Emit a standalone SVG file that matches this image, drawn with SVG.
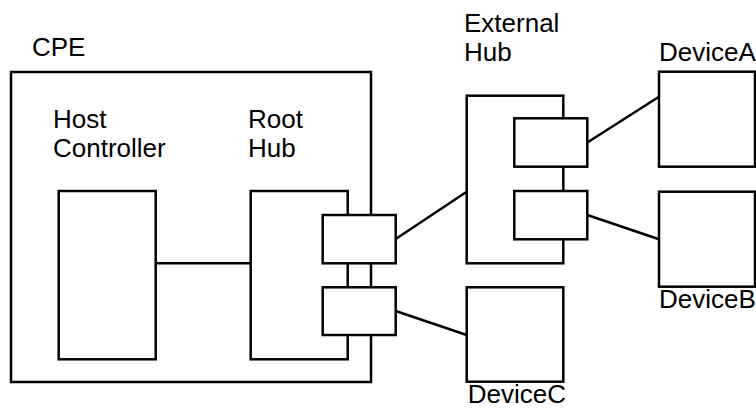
<svg xmlns="http://www.w3.org/2000/svg" width="756" height="408" viewBox="0 0 756 408">
<style>
.b{fill:#fff;stroke:#000;stroke-width:2.5}
.c{fill:none;stroke:#000;stroke-width:2.5}
text{font-family:"Liberation Sans",Arial,sans-serif;font-size:26px;fill:#000}
</style>
<rect width="756" height="408" fill="#fff"/>
<g id="cpe">
<rect class="b" x="11" y="72" width="360" height="310"/>
<text x="32" y="56">CPE</text>
</g>
<g id="host-controller">
<rect class="b" x="58.7" y="191" width="97" height="168.3"/>
<text x="53" y="128">Host</text>
<text x="53" y="157">Controller</text>
</g>
<g id="root-hub">
<rect class="b" x="250.7" y="191" width="97" height="168.3"/>
<text x="248" y="128">Root</text>
<text x="248" y="157">Hub</text>
</g>
<g id="external-hub">
<rect class="b" x="466.7" y="95.7" width="96.6" height="167.6"/>
<text x="464" y="31.7">External</text>
<text x="464" y="61">Hub</text>
</g>
<g id="connectors">
<line class="c" x1="155.7" y1="263.3" x2="250.7" y2="263.3"/>
<line class="c" x1="395.7" y1="239" x2="466.7" y2="191.7"/>
<line class="c" x1="395.7" y1="311" x2="466.7" y2="335"/>
<line class="c" x1="587.3" y1="142.5" x2="659" y2="96.7"/>
<line class="c" x1="587.3" y1="215" x2="659" y2="239.3"/>
</g>
<g id="root-port1"><rect class="b" x="322.7" y="215" width="73" height="48.3"/></g>
<g id="root-port2"><rect class="b" x="322.7" y="287.3" width="73" height="47.7"/></g>
<g id="ext-port-a"><rect class="b" x="514.3" y="118.3" width="73" height="48.4"/></g>
<g id="ext-port-b"><rect class="b" x="514.3" y="191" width="73" height="48.3"/></g>
<g id="device-a">
<rect class="b" x="659" y="71.7" width="96" height="95"/>
<text x="659" y="61">DeviceA</text>
</g>
<g id="device-b">
<rect class="b" x="659" y="191.7" width="96" height="95"/>
<text x="659" y="308">DeviceB</text>
</g>
<g id="device-c">
<rect class="b" x="466.7" y="287.3" width="96.6" height="94.4"/>
<text x="467.7" y="403">DeviceC</text>
</g>
</svg>
